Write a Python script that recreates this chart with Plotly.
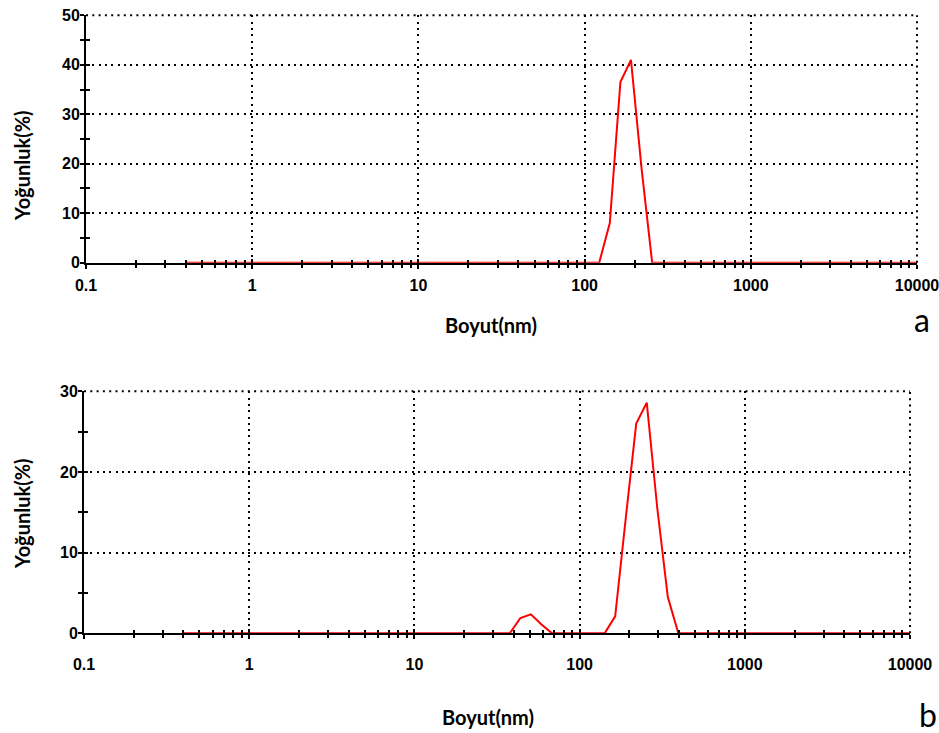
import plotly.graph_objects as go

# ---- data ----
size_a = [0.4, 122.4, 141.8, 164.2, 190.1, 220.2, 255.0, 10000]
int_a = [0, 0, 8.0, 36.5, 41.0, 19.0, 0, 0]

size_b = [0.4, 37.8, 43.8, 50.7, 58.8, 68.1, 141.8, 164.2, 190.1, 220.2, 255.0, 295.3, 342.0, 396.0, 10000]
int_b = [0, 0, 1.9, 2.35, 1.1, 0, 0, 2.1, 14.2, 26.0, 28.6, 15.5, 4.5, 0, 0]

x_tickvals = [0.1, 1, 10, 100, 1000, 10000]
x_ticktext = ["0.1", "1", "10", "100", "1000", "10000"]
y_ticks_a = [0, 10, 20, 30, 40, 50]
y_ticks_b = [0, 10, 20, 30]

W, H = 939, 733
def px_x(p): return p / W
def px_y(p): return 1 - p / H

FONT = "Liberation Sans, Arial, sans-serif"
TFONT = "Lato, Open Sans, sans-serif"
tickfont = dict(family=FONT, size=16, color="black", weight="bold")
DOT = "2px,4.3px"

fig = go.Figure()
fig.add_trace(go.Scatter(x=size_a, y=int_a, mode="lines", line=dict(color="#ff0000", width=2),
                         xaxis="x", yaxis="y", showlegend=False, hoverinfo="skip"))
fig.add_trace(go.Scatter(x=size_b, y=int_b, mode="lines", line=dict(color="#ff0000", width=2),
                         xaxis="x2", yaxis="y2", showlegend=False, hoverinfo="skip"))
# dummy traces for overlay (inside-tick) axes
for xa, ya in [("x3", "y3"), ("x4", "y4")]:
    fig.add_trace(go.Scatter(x=[None], y=[None], xaxis=xa, yaxis=ya, showlegend=False, hoverinfo="skip"))

dom_xa = [px_x(86), px_x(917)]
dom_ya = [px_y(262.7), px_y(15.3)]
dom_xb = [px_x(84), px_x(910)]
dom_yb = [px_y(633.3), px_y(391.3)]

def xaxis_main(domain, anchor, standoff):
    return dict(type="log", range=[-1, 4], domain=domain, anchor=anchor, automargin=False,
                tickvals=x_tickvals, ticktext=x_ticktext, tickfont=tickfont,
                ticks="outside", ticklen=4, tickwidth=1.5, tickcolor="black",
                ticklabelstandoff=standoff, ticklabeloverflow="allow",
                minor=dict(dtick="D1", ticks="outside", ticklen=3, tickwidth=1.5, tickcolor="black", showgrid=False),
                showline=True, linecolor="black", linewidth=2,
                showgrid=True, gridcolor="black", gridwidth=2, griddash=DOT,
                zeroline=False)

def yaxis_main(domain, anchor, rng, tv):
    return dict(range=rng, domain=domain, anchor=anchor, tickvals=tv, tickfont=tickfont, automargin=False,
                ticks="outside", ticklen=4, tickwidth=1.5, tickcolor="black", ticklabelstandoff=-3,
                ticklabeloverflow="allow",
                minor=dict(dtick=5, ticks="outside", ticklen=4, tickwidth=1.5, tickcolor="black", showgrid=False),
                showline=True, linecolor="black", linewidth=2,
                showgrid=True, gridcolor="black", gridwidth=2, griddash=DOT,
                zeroline=False)

def xaxis_over(over, anchor, domain):
    return dict(type="log", range=[-1, 4], overlaying=over, anchor=anchor, domain=domain, automargin=False,
                tickvals=x_tickvals, showticklabels=False, ticks="inside", ticklen=4, tickwidth=1.5,
                tickcolor="black",
                minor=dict(dtick="D1", ticks="inside", ticklen=3, tickwidth=1.5, tickcolor="black", showgrid=False),
                showgrid=False, showline=False, zeroline=False)

def yaxis_over(over, anchor, domain, rng, tv):
    return dict(range=rng, overlaying=over, anchor=anchor, domain=domain, tickvals=tv, automargin=False,
                showticklabels=False, ticks="inside", ticklen=4, tickwidth=1.5, tickcolor="black",
                minor=dict(dtick=5, ticks="inside", ticklen=4, tickwidth=1.5, tickcolor="black", showgrid=False),
                showgrid=False, showline=False, zeroline=False)

fig.update_layout(
    width=W, height=H, margin=dict(l=0, r=0, t=0, b=0, autoexpand=False),
    paper_bgcolor="white", plot_bgcolor="white",
    xaxis=xaxis_main(dom_xa, "y", 3),
    yaxis=yaxis_main(dom_ya, "x", [0, 50], y_ticks_a),
    xaxis2=xaxis_main(dom_xb, "y2", 11),
    yaxis2=yaxis_main(dom_yb, "x2", [0, 30], y_ticks_b),
    xaxis3=xaxis_over("x", "y3", dom_xa),
    yaxis3=yaxis_over("y", "x3", dom_ya, [0, 50], y_ticks_a),
    xaxis4=xaxis_over("x2", "y4", dom_xb),
    yaxis4=yaxis_over("y2", "x4", dom_yb, [0, 30], y_ticks_b),
)

# dotted frame lines on top and right edges (grid lines at range ends)
shapes = []
for xr, yr in [("x", "y"), ("x2", "y2")]:
    shapes.append(dict(type="line", xref=f"{xr} domain", yref=f"{yr} domain", x0=0, x1=1, y0=1, y1=1,
                       line=dict(color="black", width=2, dash=DOT)))
    shapes.append(dict(type="line", xref=f"{xr} domain", yref=f"{yr} domain", x0=1, x1=1, y0=0, y1=1,
                       line=dict(color="black", width=2, dash=DOT)))
fig.update_layout(shapes=shapes)

title_font = dict(family=TFONT, size=20, color="black", weight="bold")
ann = [
    dict(text="Yoğunluk(%)", x=px_x(22), y=px_y(166), textangle=-90, font=title_font),
    dict(text="Yoğunluk(%)", x=px_x(22), y=px_y(514), textangle=-90, font=title_font),
    dict(text="Boyut(nm)", x=px_x(491), y=px_y(325), font=title_font),
    dict(text="Boyut(nm)", x=px_x(488), y=px_y(717), font=title_font),
    dict(text="a", x=px_x(922), y=px_y(320), font=dict(family=TFONT, size=32, color="black")),
    dict(text="b", x=px_x(928), y=px_y(714), font=dict(family=TFONT, size=32, color="black")),
]
for a in ann:
    a.update(xref="paper", yref="paper", showarrow=False, xanchor="center", yanchor="middle")
fig.update_layout(annotations=ann)

# remove the default page margin so the 939x733 figure fills the window exactly
fig.write_html("out.html", config={"displayModeBar": False},
               post_script="document.body.style.margin='0';document.body.style.overflow='hidden';")
